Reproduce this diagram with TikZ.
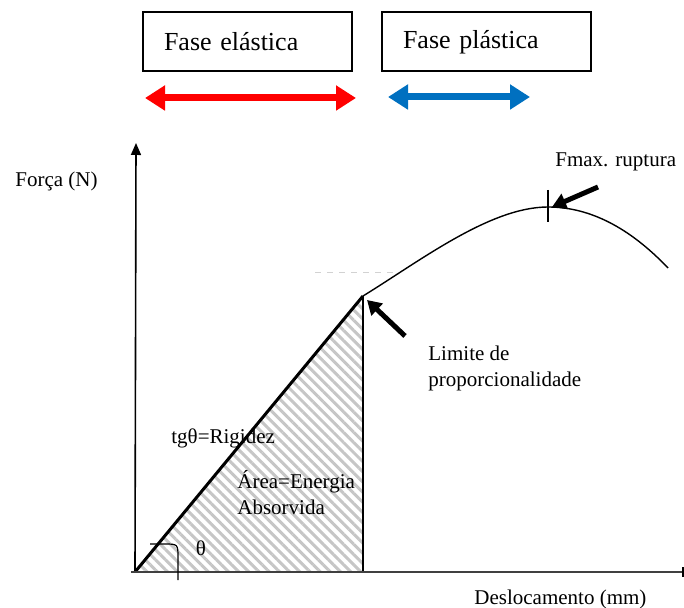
\documentclass[tikz,border=0pt]{standalone}
\usepackage{fontspec}
\setmainfont{Liberation Serif}
\usetikzlibrary{positioning, arrows.meta, patterns.meta}
\definecolor{azul}{RGB}{0,112,192}

\begin{document}
\begin{tikzpicture}[
    x=0.5pt, y=-0.5pt,
    fase/.style={draw, line width=1pt, minimum height=29.5pt, inner xsep=10.5pt, text width=83.5pt, align=left, font=\fontsize{13}{15}\selectfont},
    fasearr/.style={line width=3.5pt, {Triangle[width=12pt,length=10pt]}-{Triangle[width=12pt,length=10pt]}},
    lbl/.style={font=\fontsize{10.5}{12.8}\selectfont, inner sep=0pt, align=left},
    seta/.style={line width=2.5pt, -{Triangle[width=8pt,length=7pt]}}
  ]
  \useasboundingbox (0,0) rectangle (684,608);

  % fases
  \node[fase, anchor=west] (elast) at (142,42) {Fase elástica};
  \node[fase, right=14pt of elast] (plast) {Fase plástica};

  \coordinate (re1) at (145,98);
  \coordinate (re2) at (356,98);
  \coordinate (bl1) at (388,97);
  \coordinate (bl2) at (530,97);
  \draw[fasearr, red] (re1) -- (re2);
  \draw[fasearr, azul] (bl1) -- (bl2);

  % eixos e curva
  \coordinate (O) at (135,572);
  \coordinate (ytop) at (136,143);
  \coordinate (xend) at (684,572);
  \coordinate (P) at (363,296);
  \coordinate (Pb) at (363,572);
  \coordinate (M) at (548,207);
  \coordinate (E) at (668,268);

  \fill[pattern={Lines[angle=-45,distance=3.6pt,line width=1.5pt]}, pattern color=gray!45] (O) -- (P) -- (Pb) -- cycle;
  \draw[gray!35, dashed, line width=0.5pt] (315,273) -- (395,273);

  \draw[line width=0.6pt] (P) -- (Pb);
  \draw[line width=1.5pt] (O) -- (P);
  \draw[line width=0.7pt] (P) .. controls (420,261) and (490,207) .. (M) .. controls (590,207) and (630,228) .. (E);
  \draw[line width=0.8pt, -{Triangle[width=5pt,length=6pt]}] (O) -- (ytop);
  \draw[line width=1pt, black!75] ([xshift=-2pt]O) -- (xend);
  \draw[line width=0.6pt] ([shift={(-1,-5)}]xend) -- ([shift={(-1,5)}]xend);
  \draw[line width=0.8pt] ([shift={(0,-17)}]M) -- ([shift={(0,15)}]M);
  \draw[line width=0.6pt] (150,544) -- (164,544) .. controls (178,544) .. (178,558) -- (178,580);

  \coordinate (lt) at (405,336);
  \coordinate (ft) at (598,187);
  \draw[seta] (lt) -- ([shift={(4,4)}]P);
  \draw[seta] (ft) -- ([shift={(4,0)}]M);

  % textos
  \node[lbl, anchor=west] (forca) at (15,181) {Força (N)};
  \node[lbl, anchor=west] (fmax) at (555,162) {Fmax. ruptura};
  \node[lbl, anchor=north west] (limite) at (428,346) {Limite de\\proporcionalidade};
  \node[lbl, anchor=west] (tg) at (171,438) {tgθ=Rigidez};
  \node[lbl, anchor=north west] (area) at (237,470) {Área=Energia\\Absorvida};
  \node[lbl] (theta) at (201,548) {θ};
  \node[lbl, anchor=west] (desl) at (474,599) {Deslocamento (mm)};

\end{tikzpicture}
\end{document}
